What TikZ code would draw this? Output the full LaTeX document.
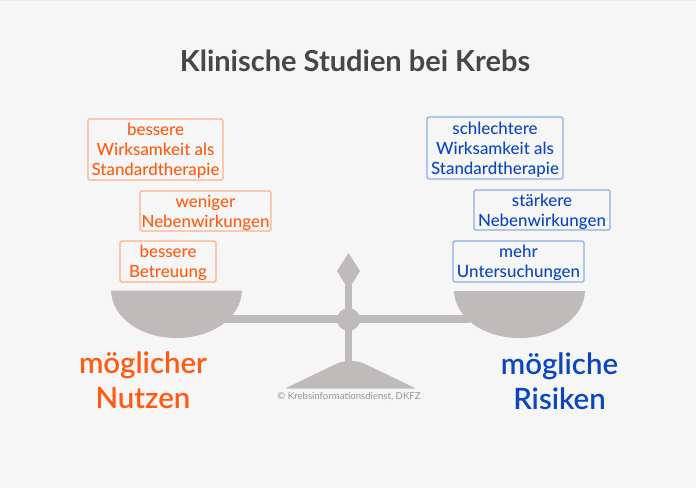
\documentclass[tikz,border=0pt]{standalone}
\usepackage{fontspec}
\setmainfont{Lato}
\newfontfamily\mittel{Lato Medium}
\newfontfamily\halbfett{Lato Semibold}
\definecolor{nutzen}{HTML}{FF5A0F}
\definecolor{nutzenrand}{HTML}{FFB088}
\definecolor{risiko}{HTML}{0A46BE}
\definecolor{risikorand}{HTML}{8CAEE8}
\definecolor{waage}{HTML}{BFBBBA}
\definecolor{hinten}{HTML}{F6F6F6}
\tikzset{
  kasten/.style={draw,line width=1.3pt,rounded corners=1.5pt,align=center,inner sep=0pt,
    font=\mittel\fontsize{16.9}{19.8}\selectfont,text depth=-4.5pt},
  nutzenbox/.style={kasten,draw=nutzenrand,text=nutzen},
  risikobox/.style={kasten,draw=risikorand,text=risiko},
  gross/.style={align=center,font=\halbfett\fontsize{29.4}{35}\selectfont}
}
\begin{document}
\begin{tikzpicture}[x=1pt,y=-1pt]
\useasboundingbox (0,0) rectangle (696,488);
\fill[hinten] (0,0) rectangle (696,488);
\fill[black!8] (0,0) rectangle (696,1.2);

\node [font=\fontsize{29}{35}\selectfont\bfseries,text=black!72] (titel) at (355,61) {Klinische Studien bei Krebs};

% links
\node [nutzenbox,minimum width=135pt,minimum height=61pt] (b1) at (155.5,149.5) {bessere\\Wirksamkeit als\\Standardtherapie};
\node [nutzenbox,minimum width=131pt,minimum height=40pt] (b2) at (205.5,211) {weniger\\Nebenwirkungen};
\node [nutzenbox,minimum width=96pt,minimum height=41pt] (b3) at (168,261.5) {bessere\\Betreuung};

% rechts
\node [risikobox,minimum width=136pt,minimum height=62pt] (s1) at (495,148) {schlechtere\\Wirksamkeit als\\Standardtherapie};
\node [risikobox,minimum width=136pt,minimum height=40pt] (s2) at (542,210) {stärkere\\Nebenwirkungen};
\node [risikobox,minimum width=131pt,minimum height=41pt] (s3) at (518.5,261.5) {mehr\\Untersuchungen};

% waage
\fill[waage] (225,315) rectangle (470,323);
\fill[waage] (344.5,285) rectangle (352,362);
\fill[waage] (348.5,253) -- (360,271) -- (348.5,290) -- (337,271) -- cycle;
\fill[waage] (348.5,319.5) circle (11.5);
\fill[waage] (111,290.5) -- (242,290.5) .. controls (241,318) and (212,338) .. (176.5,338) .. controls (141,338) and (112,318) .. (111,290.5) -- cycle;
\fill[waage] (454,291) -- (585,291) .. controls (584,318) and (555,338) .. (519.5,338) .. controls (484,338) and (455,318) .. (454,291) -- cycle;
\fill[waage,rounded corners=1.5pt] (285,388.5) -- (336,364) .. controls (341,362) and (345,361) .. (350,361) .. controls (356,361) and (360,362) .. (365,364) -- (416,388.5) -- cycle;

\node [font=\fontsize{9.6}{13}\selectfont,text=black!42] (kid) at (349,397) {© Krebsinformationsdienst, DKFZ};

\node [gross,text=nutzen] (nutzen) at (143,380.5) {möglicher\\Nutzen};
\node [gross,text=risiko] (risiken) at (559.5,381.5) {mögliche\\Risiken};
\end{tikzpicture}
\end{document}
